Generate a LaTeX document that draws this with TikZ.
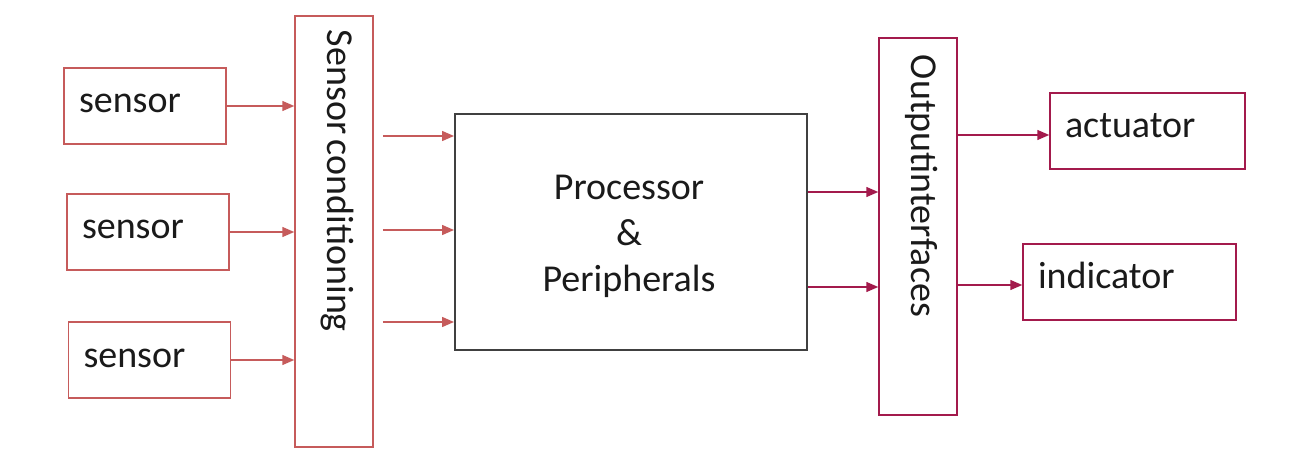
\documentclass[tikz,border=0pt]{standalone}
\usepackage{fontspec}
\setmainfont{Carlito}
\usetikzlibrary{arrows.meta,calc}
\definecolor{lred}{HTML}{C65B5B}
\definecolor{crim}{HTML}{A31A4C}
\definecolor{dgray}{HTML}{404040}
\definecolor{txt}{HTML}{1A1A1A}
\begin{document}
\begin{tikzpicture}[x=1pt,y=-1pt,
  font=\fontsize{38}{46}\selectfont,
  redbox/.style={draw=lred, line width=1.5pt, text=txt, inner sep=0pt, text height=20pt, text depth=6pt},
  crimbox/.style={draw=crim, line width=1.5pt, text=txt, inner sep=0pt, text height=20pt, text depth=6pt},
  sensorbox/.style={redbox, minimum width=162pt, minimum height=76pt, text width=132pt, align=left},
  arrL/.style={draw=lred, line width=1.5pt, -{Triangle[length=12pt,width=10pt]}},
  arrC/.style={draw=crim, line width=1.5pt, -{Triangle[length=12pt,width=10pt]}}]
\useasboundingbox (0,0) rectangle (1296,454);
\fill[white] (0,0) rectangle (1296,454);

\node[sensorbox] (s1) at (145,106) {sensor};
\node[sensorbox] (s2) at (148,232) {sensor};
\node[sensorbox] (s3) at (149.5,360) {sensor};

\node[redbox, rotate=-90, minimum width=431pt, minimum height=78pt, text width=403pt, align=left] (cond) at (334,231.5) {Sensor\hspace{0.14em}conditioning};

\node[draw=dgray, line width=2pt, minimum width=352pt, minimum height=236pt, inner sep=0pt] (proc) at (631,232) {};
\node[align=center, text=txt, inner sep=0pt] (ptxt) at ($(proc.center)+(-2,4)$) {Processor\\\&\\Peripherals};

\node[crimbox, rotate=-90, minimum width=377pt, minimum height=78pt, text width=343pt, align=left] (out) at (918,226.5) {Outputinterfaces};

\node[crimbox, minimum width=195pt, minimum height=76pt, text width=165pt, align=left] (act) at (1147.5,131) {actuator};
\node[crimbox, minimum width=213pt, minimum height=76pt, text width=183pt, align=left] (ind) at (1129.5,282) {indicator};

\draw[arrL] (s1.east) -- (s1.east -| cond.south);
\draw[arrL] (s2.east) -- (s2.east -| cond.south);
\draw[arrL] (s3.east) -- (s3.east -| cond.south);

\coordinate (p1) at ($(proc.west)+(0,-96)$);
\coordinate (p2) at ($(proc.west)+(0,-2)$);
\coordinate (p3) at ($(proc.west)+(0,90)$);
\draw[arrL, shorten <=9pt] (cond.north |- p1) -- (p1);
\draw[arrL, shorten <=9pt] (cond.north |- p2) -- (p2);
\draw[arrL, shorten <=9pt] (cond.north |- p3) -- (p3);

\coordinate (q1) at ($(proc.east)+(0,-40)$);
\coordinate (q2) at ($(proc.east)+(0,55)$);
\draw[arrC] (q1) -- (q1 -| out.south);
\draw[arrC] (q2) -- (q2 -| out.south);

\coordinate (a1) at ($(act.west)+(0,4)$);
\coordinate (i1) at ($(ind.west)+(0,3)$);
\draw[arrC] (out.north |- a1) -- (a1);
\draw[arrC] (out.north |- i1) -- (i1);
\end{tikzpicture}
\end{document}
